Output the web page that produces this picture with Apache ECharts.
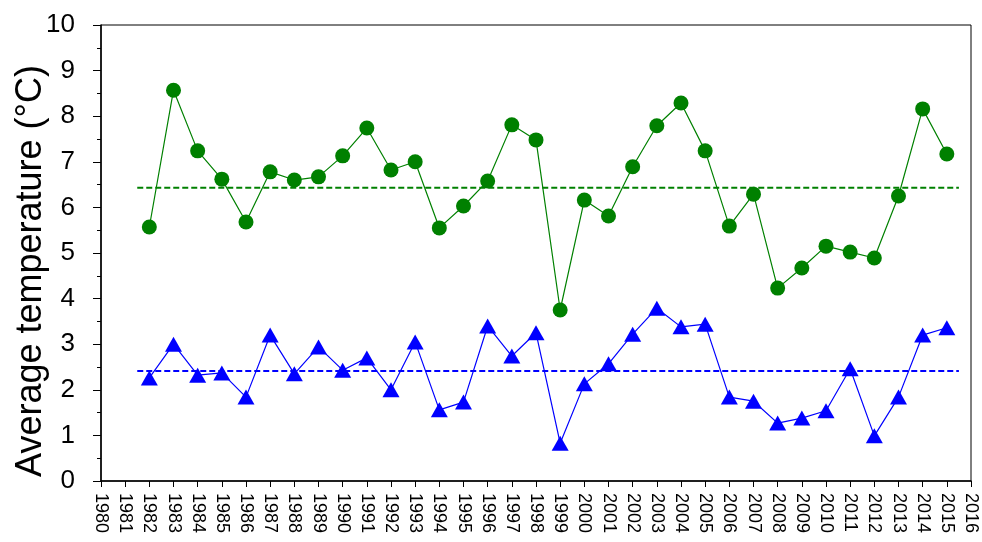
<!DOCTYPE html>
<html>
<head>
<meta charset="utf-8">
<script src="https://cdn.jsdelivr.net/npm/echarts@6/dist/echarts.min.js"></script>
<style>
  html, body { margin: 0; padding: 0; background: #fff; }
  #chart { width: 982px; height: 542px; }
</style>
</head>
<body>
<div id="chart"></div>
<script>
// Annual series, 1982-2015
const years = [1982, 1983, 1984, 1985, 1986, 1987, 1988, 1989, 1990, 1991,
  1992, 1993, 1994, 1995, 1996, 1997, 1998, 1999, 2000, 2001,
  2002, 2003, 2004, 2005, 2006, 2007, 2008, 2009, 2010, 2011,
  2012, 2013, 2014, 2015];

const upperTemp = [5.57, 8.57, 7.24, 6.62, 5.68, 6.78, 6.60, 6.67, 7.13, 7.74,
  6.82, 7.00, 5.55, 6.03, 6.58, 7.81, 7.48, 3.75, 6.16, 5.81,
  6.89, 7.79, 8.29, 7.24, 5.59, 6.29, 4.23, 4.67, 5.15, 5.02,
  4.89, 6.25, 8.16, 7.17];

const lowerTemp = [2.26, 3.00, 2.32, 2.37, 1.84, 3.20, 2.35, 2.94, 2.43, 2.70,
  2.00, 3.05, 1.56, 1.73, 3.40, 2.74, 3.25, 0.83, 2.13, 2.57,
  3.22, 3.79, 3.38, 3.44, 1.84, 1.75, 1.27, 1.38, 1.54, 2.46,
  0.99, 1.84, 3.20, 3.36];

// Long-term means, drawn as dashed reference lines
const upperMean = 6.43;
const lowerMean = 2.41;
const meanSpan = [1981.5, 2015.5];

// Axis settings
const xRange = [1980, 2016];
const yRange = [0, 10];
const yTitle = 'Average temperature (°C)';

const pairs = (vals) => years.map((y, i) => [y, vals[i]]);
const flat = (v) => meanSpan.map((x) => [x, v]);
const font = 'Liberation Sans, Arial, sans-serif';

const chart = echarts.init(document.getElementById('chart'));
chart.setOption({
  animation: false,
  backgroundColor: '#ffffff',
  grid: {
    left: 101, right: 11, top: 25, bottom: 61,
    outerBoundsMode: 'none',
    containLabel: false,
    show: true, borderColor: '#000', borderWidth: 1, backgroundColor: 'transparent'
  },
  xAxis: {
    type: 'value',
    min: xRange[0], max: xRange[1], interval: 1,
    axisLine: { show: true, onZero: false, lineStyle: { color: '#000', width: 1.5 } },
    axisTick: { show: true, length: 6, lineStyle: { color: '#000', width: 1 } },
    splitLine: { show: false },
    axisLabel: {
      rotate: -90, margin: 12, color: '#000', fontSize: 18,
      fontFamily: font,
      formatter: (v) => String(v)
    }
  },
  yAxis: {
    type: 'value',
    min: yRange[0], max: yRange[1], interval: 1,
    name: yTitle,
    nameLocation: 'middle',
    nameGap: 52,
    nameMoveOverlap: false,
    nameTextStyle: { fontSize: 36, color: '#000', fontFamily: font, padding: [0, 36, 0, 0] },
    axisLine: { show: true, lineStyle: { color: '#000', width: 1.5 } },
    axisTick: { show: true, length: 8, lineStyle: { color: '#000', width: 1 } },
    minorTick: { show: true, splitNumber: 2, length: 4, lineStyle: { color: '#000', width: 1 } },
    splitLine: { show: false },
    axisLabel: {
      margin: 26, color: '#000', fontSize: 26,
      fontFamily: font
    }
  },
  series: [
    {
      name: 'upper',
      type: 'line',
      data: pairs(upperTemp),
      symbol: 'circle', symbolSize: 15,
      lineStyle: { color: '#008000', width: 1.2 },
      itemStyle: { color: '#008000' },
      z: 3
    },
    {
      name: 'lower',
      type: 'line',
      data: pairs(lowerTemp),
      symbol: 'triangle', symbolSize: [17, 15],
      lineStyle: { color: '#0000ff', width: 1.2 },
      itemStyle: { color: '#0000ff' },
      z: 3
    },
    {
      name: 'upperMean',
      type: 'line',
      data: flat(upperMean),
      symbol: 'none',
      lineStyle: { color: '#008000', width: 2, type: [6, 3] },
      z: 2
    },
    {
      name: 'lowerMean',
      type: 'line',
      data: flat(lowerMean),
      symbol: 'none',
      lineStyle: { color: '#0000ff', width: 2, type: [6, 3] },
      z: 2
    }
  ]
});
</script>
</body>
</html>
